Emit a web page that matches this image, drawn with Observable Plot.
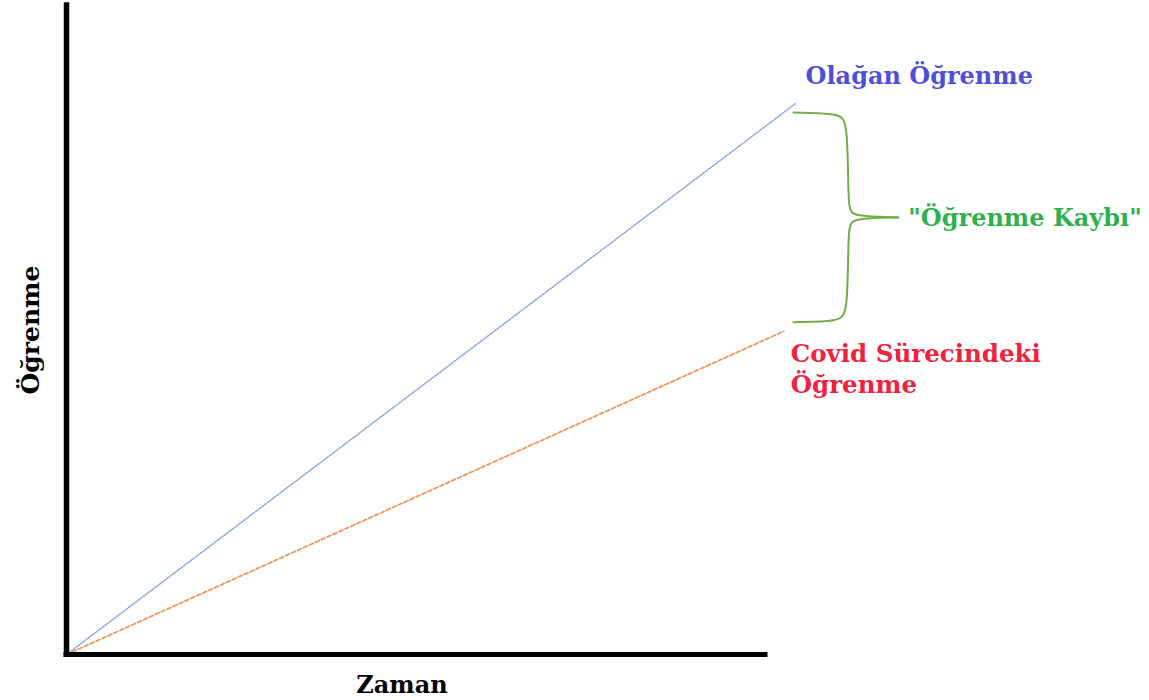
<!DOCTYPE html>
<html>
<head>
<meta charset="utf-8">
<script src="https://cdn.jsdelivr.net/npm/d3@7"></script>
<script src="https://cdn.jsdelivr.net/npm/@observablehq/plot@0.6"></script>
<style>
  html, body { margin: 0; padding: 0; background: #fff; }
</style>
</head>
<body>
<div id="chart"></div>
<script>
// Data (schematic, relative units)
const time = [0, 104.3];                 // Zaman
const normalLearning = [0, 84.9];        // Olağan Öğrenme
const covidTime = [0, 102.6];
const covidLearning = [0, 49.8];         // Covid Sürecindeki Öğrenme

const labelNormal = "Olağan Öğrenme";
const labelCovid = "Covid Sürecindeki\nÖğrenme";
const labelLoss = "\"Öğrenme Kaybı\"";
const xLabel = "Zaman";
const yLabel = "Öğrenme";

const normalRows = time.map((t, i) => ({t, v: normalLearning[i]}));
const covidRows = covidTime.map((t, i) => ({t, v: covidLearning[i]}));

// Brace spanning the gap between the two outcomes
const braceTop = normalLearning[1] - 1.4;
const braceBot = covidLearning[1] + 1.4;
const braceMid = (braceTop + braceBot) / 2;
const bx0 = 104, bx1 = 111.8, bx2 = 119;
const brace = [
  {x: bx0, y: braceTop, z: "a"}, {x: bx1 - 1.2, y: braceTop - 0.1, z: "a"}, {x: bx1, y: braceTop - 1.4, z: "a"},
  {x: bx1, y: braceMid + 1.2, z: "a"}, {x: bx1 + 0.6, y: braceMid + 0.2, z: "a"}, {x: bx2, y: braceMid, z: "a"},
  {x: bx0, y: braceBot, z: "b"}, {x: bx1 - 1.2, y: braceBot + 0.1, z: "b"}, {x: bx1, y: braceBot + 1.4, z: "b"},
  {x: bx1, y: braceMid - 1.2, z: "b"}, {x: bx1 + 0.6, y: braceMid - 0.2, z: "b"}, {x: bx2, y: braceMid, z: "b"}
];

const font = "'DejaVu Serif', serif";

const chart = Plot.plot({
  width: 1149,
  height: 700,
  marginLeft: 66,
  marginRight: 384,
  marginTop: 5,
  marginBottom: 46,
  x: {domain: [0, 100], axis: null},
  y: {domain: [0, 100], axis: null},
  style: {fontFamily: font, background: "#fff", overflow: "visible"},
  marks: [
    Plot.line(normalRows, {x: "t", y: "v", stroke: "#8aa6e4", strokeWidth: 1.5, strokeDasharray: "1.5,1.5", clip: false}),
    Plot.line(covidRows, {x: "t", y: "v", stroke: "#f4955a", strokeWidth: 1.8, strokeDasharray: "4,2.5", clip: false}),
    Plot.ruleX([0], {y1: 0, y2: 100, stroke: "#000", strokeWidth: 5.5, strokeLinecap: "square"}),
    Plot.ruleY([0], {x1: 0, x2: 100, stroke: "#000", strokeWidth: 5, strokeLinecap: "square"}),
    Plot.line(brace, {x: "x", y: "y", z: "z", curve: "basis", stroke: "#70ad47", strokeWidth: 2, clip: false}),
    Plot.text([labelNormal], {x: time[1], y: normalLearning[1], text: d => d, dx: 10, dy: -27,
      textAnchor: "start", fill: "#4f4fd6", fontSize: 24, fontWeight: "bold", clip: false}),
    Plot.text([labelCovid], {x: covidTime[1], y: covidLearning[1], text: d => d, dx: 7, dy: 36,
      textAnchor: "start", lineHeight: 1.3, fill: "#f0233f", fontSize: 24.5, fontWeight: "bold", clip: false}),
    Plot.text([labelLoss], {x: bx2, y: braceMid, text: d => d, dx: 10, dy: 1,
      textAnchor: "start", fill: "#2eb04f", fontSize: 24, fontWeight: "bold", clip: false}),
    Plot.text([xLabel], {x: 48, y: 0, text: d => d, dy: 31, fill: "#000", fontSize: 24, fontWeight: "bold", clip: false}),
    Plot.text([yLabel], {x: 0, y: 50, text: d => d, dx: -36, rotate: -90, fill: "#000", fontSize: 25, fontWeight: "bold", clip: false})
  ]
});
document.getElementById("chart").appendChild(chart);
</script>
</body>
</html>
